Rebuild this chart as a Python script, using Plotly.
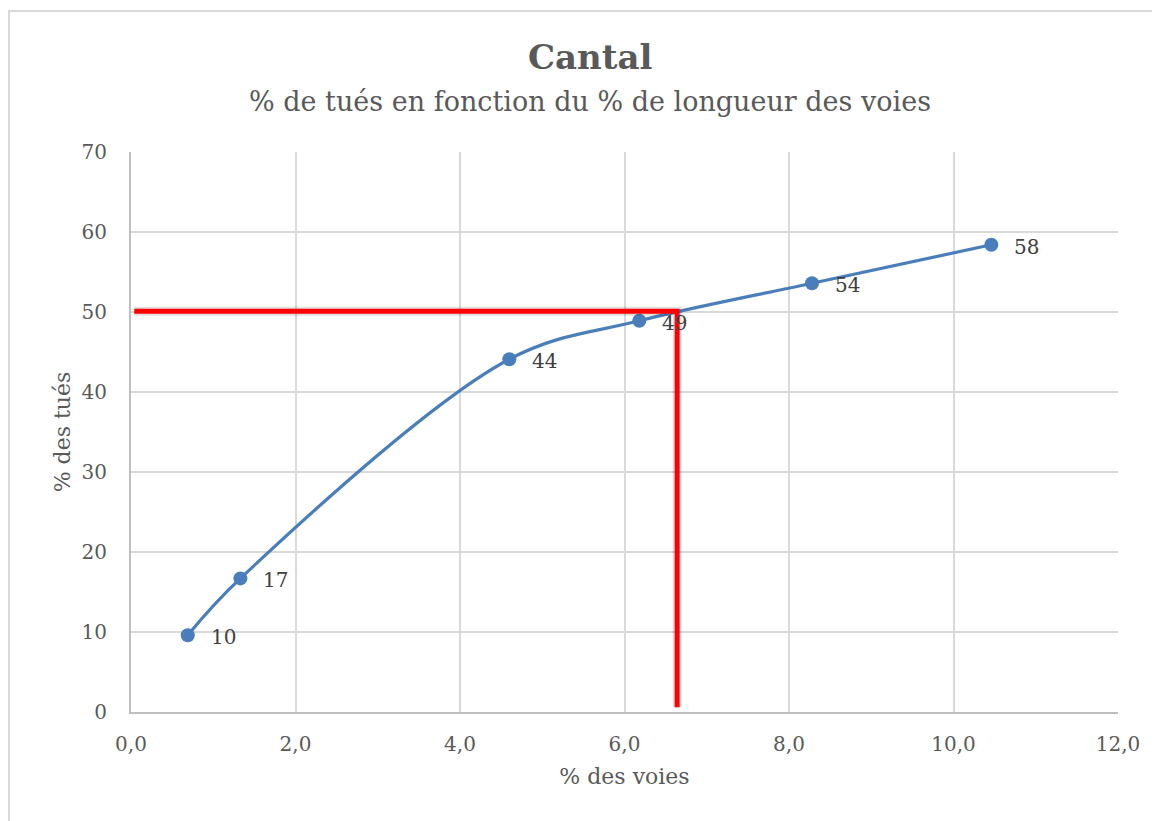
import plotly.graph_objects as go

# Data
voies_pct = [0.69, 1.33, 4.60, 6.18, 8.28, 10.46]
tues_pct = [9.6, 16.7, 44.1, 48.9, 53.6, 58.4]
labels = ["10", "17", "44", "49", "54", "58"]

ref_x = 6.64
ref_y = 50.1
ref_line_x = [0.04, ref_x, ref_x]
ref_line_y = [ref_y, ref_y, 0.6]

x_ticks = [0, 2, 4, 6, 8, 10, 12]
y_ticks = [0, 10, 20, 30, 40, 50, 60, 70]

FONT = "DejaVu Serif"
GREY = "#595959"

# page body has an 8px margin; compensate so the plot area lands at 131..1118 / 152..712
OFF = 8
L, R, T, B = 131 - OFF, 1160 - (1118 - OFF), 152 - OFF, 821 - (712 - OFF)
PW, PH = 1118 - 131, 712 - 152


def px_x(px):
    return (px - 131) / PW


def px_y(py):
    return (712 - py) / PH


fig = go.Figure()

fig.add_trace(go.Scatter(
    x=voies_pct, y=tues_pct, mode="lines+markers",
    line=dict(color="#4a7ebb", width=3.2, shape="spline", smoothing=1.0),
    marker=dict(color="#4a7ebb", size=14),
    showlegend=False, hoverinfo="x+y",
))

# shadow of the red reference lines
fig.add_trace(go.Scatter(
    x=ref_line_x, y=ref_line_y, mode="lines",
    line=dict(color="rgba(0,0,0,0.12)", width=9),
    showlegend=False, hoverinfo="skip",
))
fig.add_trace(go.Scatter(
    x=ref_line_x, y=ref_line_y, mode="lines",
    line=dict(color="#ff0000", width=5),
    showlegend=False, hoverinfo="skip",
))

annotations = []
for xv, yv, t in zip(voies_pct, tues_pct, labels):
    annotations.append(dict(
        x=xv, y=yv, xref="x", yref="y", text=t, showarrow=False,
        xanchor="left", yanchor="middle", xshift=21, yshift=-2,
        font=dict(family=FONT, size=20, color="#404040"),
    ))

annotations.append(dict(
    x=px_x(590), y=px_y(57), xref="paper", yref="paper", text="<b>Cantal</b>",
    showarrow=False, xanchor="center", yanchor="middle",
    font=dict(family=FONT, size=34, color=GREY),
))
annotations.append(dict(
    x=px_x(590), y=px_y(101), xref="paper", yref="paper",
    text="% de tués en fonction du % de longueur des voies",
    showarrow=False, xanchor="center", yanchor="middle",
    font=dict(family=FONT, size=27, color=GREY),
))

fig.update_layout(
    width=1160, height=821,
    margin=dict(l=L, r=R, t=T, b=B),
    paper_bgcolor="white", plot_bgcolor="white",
    separators=", ",
    annotations=annotations,
    font=dict(family=FONT, color=GREY),
    shapes=[dict(
        type="rect", xref="paper", yref="paper",
        x0=px_x(9), x1=1.1, y0=-0.3, y1=px_y(11),
        line=dict(color="#d9d9d9", width=2), layer="below",
    )],
)

fig.update_xaxes(
    range=[0, 12], tickvals=x_ticks, tickformat=".1f",
    showgrid=True, gridcolor="#d9d9d9", gridwidth=1.5,
    showline=True, linecolor="#bfbfbf", linewidth=2,
    zeroline=False, ticks="", ticklabelstandoff=13,
    tickfont=dict(family=FONT, size=20, color=GREY),
    title=dict(text="% des voies", font=dict(family=FONT, size=22, color=GREY), standoff=14),
)
fig.update_yaxes(
    range=[0, 70], tickvals=y_ticks,
    showgrid=True, gridcolor="#d9d9d9", gridwidth=1.5,
    showline=True, linecolor="#bfbfbf", linewidth=2,
    zeroline=False, ticks="", ticklabelstandoff=18,
    tickfont=dict(family=FONT, size=20, color=GREY),
    title=dict(text="% des tués", font=dict(family=FONT, size=22, color=GREY), standoff=5),
)

fig.write_html("out.html")
